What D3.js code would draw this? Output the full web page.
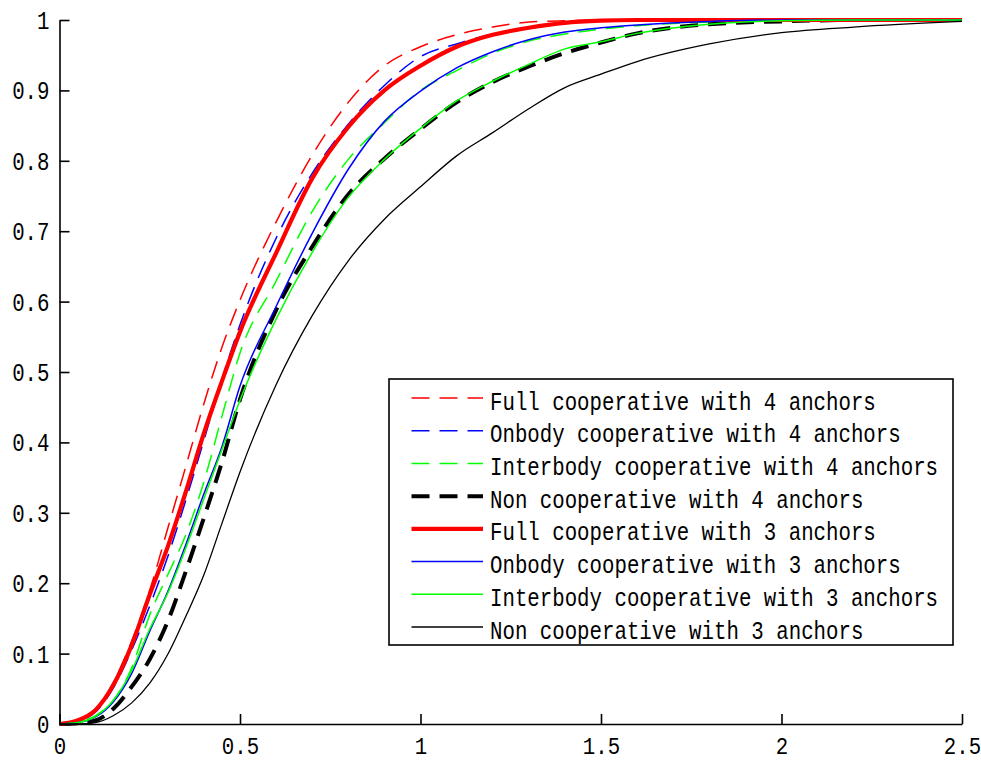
<!DOCTYPE html>
<html>
<head>
<meta charset="utf-8">
<script src="https://cdn.jsdelivr.net/npm/d3@7"></script>
<style>
  html, body { margin: 0; padding: 0; background: #fff; }
  svg { display: block; }
  text { font-family: "Liberation Mono", "DejaVu Sans Mono", monospace; fill: #000; }
</style>
</head>
<body>
<svg id="chart" width="981" height="761"></svg>
<script>
// Sample positions (error, x axis) shared by every CDF curve
const xValues = [0, 0.05, 0.1, 0.15, 0.2, 0.25, 0.3, 0.35, 0.4, 0.45, 0.5, 0.6, 0.7, 0.8, 0.9, 1.0,
                 1.1, 1.2, 1.3, 1.4, 1.5, 1.6, 1.8, 2.0, 2.2, 2.5];

// Cumulative probability of each scheme at those positions
const fullCoop4   = [0, 0.005, 0.02, 0.06, 0.118, 0.19, 0.278, 0.366, 0.455, 0.535, 0.602, 0.713, 0.808, 0.883, 0.935, 0.962,
                     0.979, 0.99, 0.997, 0.999, 1, 1, 1, 1, 1, 1];
const onbodyCoop4 = [0, 0.004, 0.017, 0.052, 0.105, 0.168, 0.238, 0.318, 0.403, 0.49, 0.567, 0.69, 0.782, 0.852, 0.907, 0.948,
                     0.966, 0.98, 0.989, 0.996, 0.999, 1, 1, 1, 1, 1];
const interCoop4  = [0, 0.003, 0.012, 0.034, 0.08, 0.155, 0.212, 0.269, 0.344, 0.437, 0.527, 0.629, 0.728, 0.802, 0.854, 0.90,
                     0.928, 0.953, 0.97, 0.98, 0.987, 0.992, 0.997, 0.999, 1, 1];
const nonCoop4    = [0, 0.001, 0.005, 0.022, 0.053, 0.092, 0.146, 0.217, 0.293, 0.372, 0.461, 0.588, 0.678, 0.752, 0.803, 0.845,
                     0.883, 0.912, 0.934, 0.953, 0.968, 0.981, 0.994, 0.998, 1, 1];
const fullCoop3   = [0, 0.005, 0.02, 0.056, 0.112, 0.184, 0.252, 0.33, 0.413, 0.487, 0.557, 0.669, 0.775, 0.848, 0.90, 0.935,
                     0.962, 0.979, 0.989, 0.996, 0.999, 1, 1, 1, 1, 1];
const onbodyCoop3 = [0, 0.002, 0.01, 0.032, 0.072, 0.132, 0.188, 0.255, 0.327, 0.394, 0.48, 0.593, 0.697, 0.788, 0.856, 0.899,
                     0.932, 0.955, 0.972, 0.983, 0.989, 0.993, 0.998, 1, 1, 1];
const interCoop3  = [0, 0.002, 0.011, 0.034, 0.076, 0.135, 0.186, 0.25, 0.32, 0.39, 0.46, 0.575, 0.67, 0.748, 0.802, 0.846,
                     0.885, 0.913, 0.937, 0.959, 0.969, 0.981, 0.994, 0.999, 1, 1];
const nonCoop3    = [0, 0, 0.002, 0.012, 0.03, 0.058, 0.099, 0.153, 0.212, 0.285, 0.358, 0.482, 0.58, 0.658, 0.717, 0.763,
                     0.807, 0.84, 0.874, 0.904, 0.923, 0.941, 0.966, 0.982, 0.99, 0.998];

const seriesNames = [
  "Full cooperative with 4 anchors",
  "Onbody cooperative with 4 anchors",
  "Interbody cooperative with 4 anchors",
  "Non cooperative with 4 anchors",
  "Full cooperative with 3 anchors",
  "Onbody cooperative with 3 anchors",
  "Interbody cooperative with 3 anchors",
  "Non cooperative with 3 anchors"
];
const seriesValues = [fullCoop4, onbodyCoop4, interCoop4, nonCoop4, fullCoop3, onbodyCoop3, interCoop3, nonCoop3];

const xTicks = [0, 0.5, 1, 1.5, 2, 2.5];
const xTickLabels = ["0", "0.5", "1", "1.5", "2", "2.5"];
const yTicks = [0, 0.1, 0.2, 0.3, 0.4, 0.5, 0.6, 0.7, 0.8, 0.9, 1];
const yTickLabels = ["0", "0.1", "0.2", "0.3", "0.4", "0.5", "0.6", "0.7", "0.8", "0.9", "1"];

// Line styles for each series
const styles = [
  { color: "#ff0000", width: 1.5, dash: "18,10" },
  { color: "#0000ff", width: 1.5, dash: "18,10" },
  { color: "#00ff00", width: 1.5, dash: "18,10" },
  { color: "#000000", width: 4,   dash: "18,10" },
  { color: "#ff0000", width: 4.2, dash: null },
  { color: "#0000ff", width: 1.5, dash: null },
  { color: "#00ff00", width: 1.5, dash: null },
  { color: "#000000", width: 1.3, dash: null }
];

const svg = d3.select("#chart");
const plotLeft = 59.5, plotRight = 962, plotTop = 20, plotBottom = 724;

const x = d3.scaleLinear().domain([0, 2.5]).range([plotLeft, plotRight]);
const y = d3.scaleLinear().domain([0, 1]).range([plotBottom, plotTop]);

const fontSize = 20.75;
const textScale = 1.2;
const xLabelScale = 1.12;

// Curves
const line = d3.line()
  .x(d => x(d[0]))
  .y(d => y(d[1]))
  .curve(d3.curveMonotoneX);

const curves = svg.append("g");
seriesValues.forEach((vals, i) => {
  const pts = xValues.map((xv, k) => [xv, vals[k]]);
  const st = styles[i];
  curves.append("path")
    .attr("d", line(pts))
    .attr("fill", "none")
    .attr("stroke", st.color)
    .attr("stroke-width", st.width)
    .attr("stroke-linejoin", "round")
    .attr("stroke-dasharray", st.dash);
});

// Axes (left and bottom only, ticks pointing inward)
const xAxis = d3.axisBottom(x)
  .tickValues(xTicks)
  .tickFormat((d, i) => xTickLabels[i])
  .tickSizeInner(-10)
  .tickSizeOuter(0)
  .tickPadding(0);
const yAxis = d3.axisLeft(y)
  .tickValues(yTicks)
  .tickFormat((d, i) => yTickLabels[i])
  .tickSizeInner(-10)
  .tickSizeOuter(0)
  .tickPadding(0);

const gx = svg.append("g").attr("transform", `translate(0,${plotBottom})`).call(xAxis);
const gy = svg.append("g").attr("transform", `translate(${plotLeft},0)`).call(yAxis);

[gx, gy].forEach(g => {
  g.select(".domain").attr("stroke", "#000").attr("stroke-width", 1.6);
  g.selectAll(".tick line").attr("stroke", "#000").attr("stroke-width", 1.6);
  g.selectAll(".tick text")
    .attr("font-family", "Liberation Mono, DejaVu Sans Mono, monospace")
    .attr("font-size", fontSize)
    .attr("fill", "#000");
});

gx.selectAll(".tick text")
  .attr("y", 0).attr("dy", null)
  .attr("transform", `translate(0,29.5) scale(1,${xLabelScale})`);
gy.selectAll(".tick text")
  .attr("x", 0).attr("dy", null)
  .attr("transform", `translate(-10,8.4) scale(1,${textScale})`);

// Legend
const legend = svg.append("g");
const boxX = 389, boxY = 379, boxW = 564, boxH = 266;
legend.append("rect")
  .attr("x", boxX).attr("y", boxY).attr("width", boxW).attr("height", boxH)
  .attr("fill", "#fff").attr("stroke", "#000").attr("stroke-width", 1.6);

const rowY = d3.scaleLinear().domain([0, 7]).range([398, 627]);
seriesNames.forEach((name, i) => {
  const st = styles[i];
  const ry = rowY(i);
  legend.append("line")
    .attr("x1", 411.5).attr("x2", 483)
    .attr("y1", ry).attr("y2", ry)
    .attr("stroke", st.color)
    .attr("stroke-width", st.width)
    .attr("stroke-dasharray", st.dash);
  legend.append("text")
    .attr("transform", `translate(490,${ry + 11.5}) scale(1,${textScale})`)
    .attr("font-size", fontSize)
    .text(name);
});
</script>
</body>
</html>
